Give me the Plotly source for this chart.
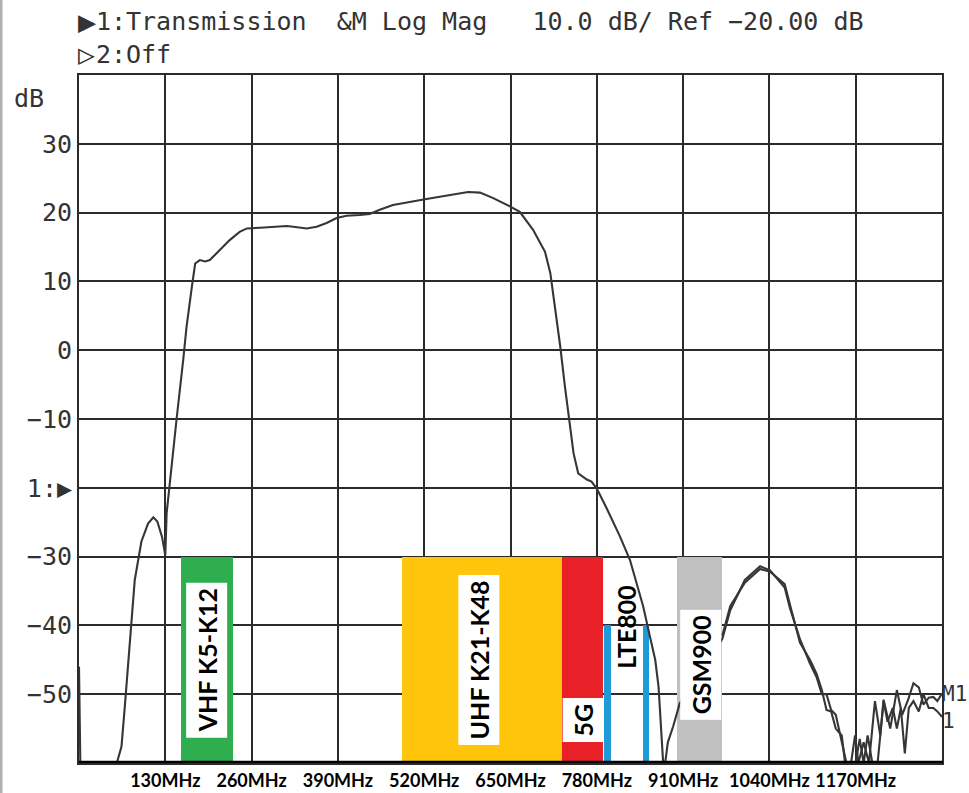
import plotly.graph_objects as go

# ---------------- data ----------------
freq_mhz = [0, 2, 57, 64, 69, 77, 84, 94, 104, 112, 118, 125, 130, 132, 137, 147, 157, 162, 170, 175,
            182, 190, 197, 212, 227, 242, 253, 273, 313, 323, 343, 358, 373, 388, 403, 423, 438, 453,
            473, 519, 549, 586, 604, 624, 649, 664, 684, 702, 710, 717, 725, 732, 740, 745, 752, 765,
            772, 780, 795, 815, 830, 840, 850, 860, 868, 873, 877, 880, 883, 887, 895, 905, 930, 969,
            981, 1003, 1026, 1041, 1063, 1071, 1086, 1101, 1111, 1119, 1126, 1133, 1140, 1149, 1156,
            1170, 1176, 1182, 1188, 1195, 1203, 1212, 1218, 1226, 1232, 1238, 1244, 1250, 1257, 1265,
            1272, 1280, 1287, 1293, 1300]
trace_db = [-46, -60, -60, -57.6, -51.8, -41.6, -33.4, -27.8, -25.2, -24.3, -24.9, -27.1, -29.8, -23.7,
            -18.9, -10, -1.4, 3.4, 9.2, 12.6, 13.1, 12.9, 13.1, 14.6, 16.0, 17.2, 17.7, 17.8, 18.05, 17.95,
            17.7, 17.95, 18.5, 19.2, 19.55, 19.65, 19.8, 20.4, 21.1, 21.9, 22.4, 23.0, 22.9, 22.1, 20.9,
            20.1, 17.5, 14.3, 11.2, 6.3, 0.5, -5.3, -11.1, -15, -17.9, -18.8, -19.1, -20.1, -23, -27.1,
            -30.5, -33.9, -37.3, -41.6, -45, -48.9, -55, -60, -60, -57, -54.7, -51.3, -48, -42,
            -37.8, -33.4, -31.4, -32, -34.5, -37.5, -42, -45.5, -47.5, -50, -50, -52.3, -53, -57, -60,
            -60, -56.5, -60, -56, -60, -60, -51, -54, -52, -55, -52, -58.6, -52, -51, -52.5,
            -50, -52, -52, -52.5, -53.3]

memory_freq_mhz = [969, 981, 1003, 1026, 1041, 1063, 1071, 1086, 1101, 1111, 1119, 1126, 1133, 1140,
                   1149, 1154, 1163, 1169, 1174, 1182, 1190, 1199, 1207, 1212, 1222, 1232, 1240, 1249,
                   1257, 1265, 1272, 1280, 1287, 1293, 1300]
memory_db = [-41.5, -37.2, -33.8, -31.8, -32.2, -34, -37, -42.5, -45, -47, -49.4, -52.3, -52.5, -55,
             -56, -60, -60, -56, -60, -57, -60, -51, -56, -50.8, -55, -49.4, -53, -50.8,
             -48.4, -49, -51.5, -50.5, -50.4, -51, -49.9]

band_start_mhz = [153, 487, 728, 791, 849, 901]
band_end_mhz = [232, 728, 790, 801, 859, 969]
band_top_db = [-30, -30, -30, -40, -40, -30]
band_colors = ["#2eae4e", "#fec50b", "#e82128", "#1d9ad8", "#1d9ad8", "#c0c0c0"]

label_text = ["VHF K5-K12", "UHF K21-K48", "5G", "LTE800", "GSM900"]
label_mhz = [192, 602, 759, 824, 937]
label_db = [-45, -45, -53.7, -40.2, -45.8]
label_bg = ["white", "white", "white", "rgba(0,0,0,0)", "white"]

x_tick_vals = [130, 260, 390, 520, 650, 780, 910, 1040, 1170]
x_tick_text = ["130MHz", "260MHz", "390MHz", "520MHz", "650MHz", "780MHz", "910MHz", "1040MHz", "1170MHz"]
y_tick_vals = [30, 20, 10, 0, -10, -20, -30, -40, -50]
y_tick_text = ["30", "20", "10", "0", "\u221210", "1:\u25b6", "\u221230", "\u221240", "\u221250"]

X_RANGE = [0, 1300]
Y_RANGE = [-60, 40]

MONO = "DejaVu Sans Mono"
INK = "#333333"
GRID = "#2b2b2b"

fig = go.Figure()

# curve (data trace and memory trace)
fig.add_trace(go.Scatter(x=freq_mhz, y=trace_db, mode="lines",
                         line=dict(color="#363636", width=2.1), showlegend=False, hoverinfo="skip"))
fig.add_trace(go.Scatter(x=memory_freq_mhz, y=memory_db, mode="lines",
                         line=dict(color="#363636", width=2.1), showlegend=False, hoverinfo="skip"))

# frequency bands (drawn above the curve)
for s, e, t, c in zip(band_start_mhz, band_end_mhz, band_top_db, band_colors):
    fig.add_trace(go.Bar(x=[(s + e) / 2], y=[t - Y_RANGE[0]], base=[Y_RANGE[0]], width=[e - s],
                         marker=dict(color=c, line=dict(width=0)), showlegend=False, hoverinfo="skip"))

annotations = []
for txt, f, d, bg in zip(label_text, label_mhz, label_db, label_bg):
    annotations.append(dict(x=f, y=d, xref="x", yref="y", text="<b>%s</b>" % txt, showarrow=False,
                            textangle=-90, bgcolor=bg, borderpad=5,
                            font=dict(family="Lato", size=25, color="black")))

# header texts
def hdr(px, py, text, size=25):
    return dict(x=(px - 79) / 863, y=(763 - py) / 688, xref="paper", yref="paper", text=text,
                showarrow=False, xanchor="left", yanchor="middle",
                font=dict(family=MONO, size=size, color=INK))

annotations += [
    hdr(76, 22, "\u25b6", 30),
    hdr(94, 22, "1:"),
    hdr(124, 22, "Transmission  &M Log Mag   10.0 dB/ Ref \u221220.00 dB"),
    hdr(76, 54, "\u25b7", 28),
    hdr(94, 54, "2:"),
    hdr(124, 54, "Off"),
    hdr(12, 99, "dB"),
]
# end-of-trace labels
annotations.append(dict(x=X_RANGE[1], y=memory_db[-1], xref="x", yref="y", text="M1", showarrow=False,
                        xanchor="left", yanchor="middle", xshift=-2,
                        font=dict(family=MONO, size=21, color=INK)))
annotations.append(dict(x=X_RANGE[1], y=trace_db[-1], xref="x", yref="y", text="1", showarrow=False,
                        xanchor="left", yanchor="middle", xshift=-2, yshift=-4,
                        font=dict(family=MONO, size=21, color=INK)))

shapes = [
    # thick bottom line
    dict(type="line", xref="paper", yref="y", x0=0, x1=1.001, y0=Y_RANGE[0], y1=Y_RANGE[0],
         line=dict(color="black", width=4.5)),
    # scan border on the left edge of the image
    dict(type="line", xref="paper", yref="paper", x0=(1 - 79) / 863, x1=(1 - 79) / 863,
         y0=(763 - 0) / 688, y1=(763 - 793) / 688, line=dict(color="#b0b0b0", width=3)),
]

fig.update_layout(
    width=969, height=793,
    margin=dict(l=79, r=27, t=75, b=30, autoexpand=False),
    paper_bgcolor="white", plot_bgcolor="white",
    barmode="overlay", bargap=0,
    showlegend=False,
    annotations=annotations,
    shapes=shapes,
    xaxis=dict(range=X_RANGE, tickvals=x_tick_vals, ticktext=x_tick_text, automargin=False,
               showgrid=True, gridcolor=GRID, gridwidth=2, zeroline=False,
               showline=True, mirror=True, linecolor=GRID, linewidth=2, ticks="",
               tickfont=dict(family="Lato", size=18, color="black", weight="bold")),
    yaxis=dict(range=Y_RANGE, tickvals=y_tick_vals, ticktext=y_tick_text, automargin=False,
               showgrid=True, gridcolor=GRID, gridwidth=2, zeroline=False,
               showline=True, mirror=True, linecolor=GRID, linewidth=2, ticks="",
               tickfont=dict(family=MONO, size=25, color=INK)),
)

fig.write_html("out.html", config={"displayModeBar": False},
               post_script="document.body.style.margin='0';document.body.style.overflow='hidden';")
